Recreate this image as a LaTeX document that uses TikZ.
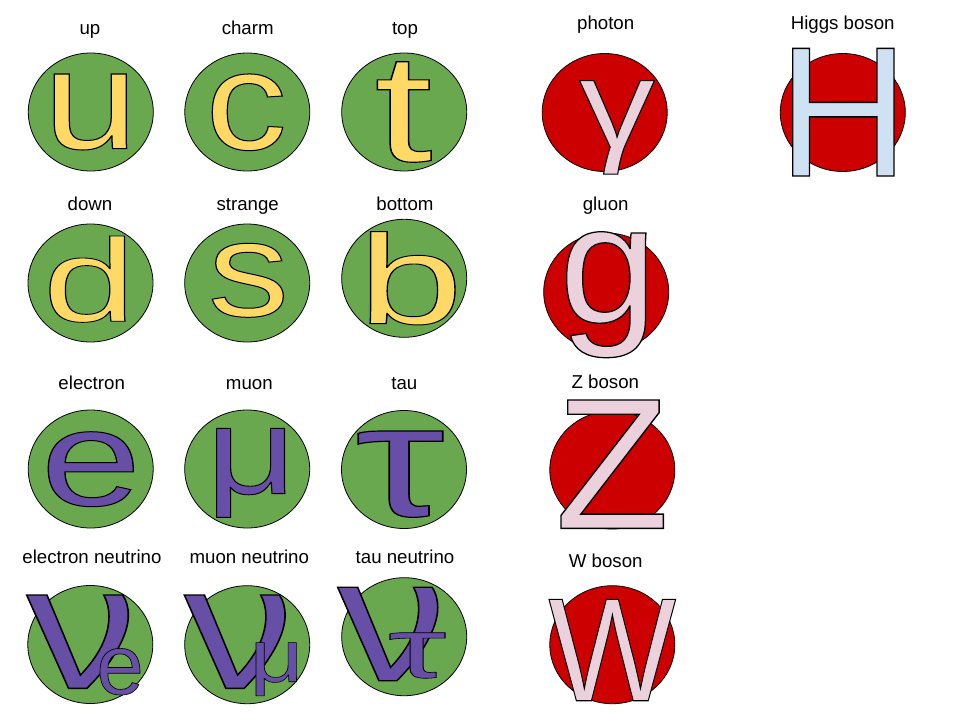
\documentclass[tikz,border=0pt]{standalone}
\usepackage{fontspec}
\usepackage{graphicx}
\setmainfont{Liberation Sans}
\usetikzlibrary{shapes.geometric}

\definecolor{fermionGreen}{HTML}{6AA84F}
\definecolor{bosonRed}{HTML}{CC0000}
\definecolor{quarkFill}{HTML}{FFD966}
\definecolor{leptonFill}{HTML}{674EA7}
\definecolor{bosonFill}{HTML}{EAD1DC}
\definecolor{higgsFill}{HTML}{CFE2F3}

% one glyph, filled and outlined, stretched so that its ink is #1 x #2
\newlength\inklsb
\newlength\inkrsb
\newsavebox\inkglyph
\newcommand\wordart[4]{%
  \begingroup\fontsize{150}{150}\selectfont
  \inklsb=\XeTeXglyphbounds1 \XeTeXcharglyph`#4\relax
  \inkrsb=\XeTeXglyphbounds3 \XeTeXcharglyph`#4\relax
  \sbox\inkglyph{\kern-\inklsb\color{#3}\special{pdf:literal direct 0 G 2 Tr 1.1 w}#4\special{pdf:literal direct 0 Tr}\kern-\inkrsb}%
  \resizebox*{#1}{#2}{\usebox\inkglyph}%
  \endgroup}

\begin{document}
\begin{tikzpicture}[x=1pt,y=-1pt,
  particle/.style={ellipse,draw=black,line width=0.8pt,minimum width=125pt,minimum height=118pt,inner sep=0pt},
  fermion/.style={particle,fill=fermionGreen},
  boson/.style={particle,fill=bosonRed},
  partname/.style={anchor=base,font=\fontsize{18.67}{22}\selectfont},
  letter/.style={inner sep=0pt}]
\useasboundingbox (0,0) rectangle (960,720);
% quarks
\node[fermion] (up) at (90.8,112) {};
\node[fermion] (charm) at (247.3,112) {};
\node[fermion] (top) at (404.2,112) {};
\node[fermion] (down) at (90.5,283) {};
\node[fermion] (strange) at (247.2,283) {};
\node[fermion] (bottom) at (404.2,278.3) {};
\node[partname] (up-name) at (90,34.5) {up};
\node[partname] (charm-name) at (247.7,34.5) {charm};
\node[partname] (top-name) at (405,34.5) {top};
\node[partname] (down-name) at (90,210) {down};
\node[partname] (strange-name) at (247.7,210) {strange};
\node[partname] (bottom-name) at (405,210) {bottom};
\node[letter] (up-sym) at (90.5,112) {\wordart{72.4pt}{76pt}{quarkFill}{u}};
\node[letter] (charm-sym) at (247.5,112.3) {\wordart{70.4pt}{76.7pt}{quarkFill}{c}};
\node[letter] (top-sym) at (404.2,112) {\wordart{53.7pt}{100.6pt}{quarkFill}{t}};
\node[letter] (down-sym) at (87.5,279.2) {\wordart{75pt}{86.3pt}{quarkFill}{d}};
\node[letter] (strange-sym) at (247.8,280.3) {\wordart{71pt}{74pt}{quarkFill}{s}};
\node[letter] (bottom-sym) at (412.5,278.3) {\wordart{85pt}{93.3pt}{quarkFill}{b}};
% leptons
\node[fermion] (electron) at (90.7,469) {};
\node[fermion] (muon) at (247.2,469) {};
\node[fermion] (tau) at (404,469.5) {};
\node[fermion] (nu-e) at (90.3,644.5) {};
\node[fermion] (nu-mu) at (247.2,644.7) {};
\node[fermion] (nu-tau) at (404.2,636.7) {};
\node[partname] (electron-name) at (91.7,389.5) {electron};
\node[partname] (muon-name) at (249.3,389.5) {muon};
\node[partname] (tau-name) at (404.3,389.5) {tau};
\node[partname] (nu-e-name) at (92,563.4) {electron neutrino};
\node[partname] (nu-mu-name) at (249.3,563.4) {muon neutrino};
\node[partname] (nu-tau-name) at (405,563.4) {tau neutrino};
\node[letter] (electron-sym) at (90.8,469.2) {\wordart{85pt}{75pt}{leptonFill}{e}};
\node[letter] (muon-sym) at (250.8,472.8) {\wordart{68.3pt}{89pt}{leptonFill}{μ}};
\node[letter] (tau-sym) at (400.5,474.2) {\wordart{84.4pt}{86.3pt}{leptonFill}{τ}};
\node[letter] (nu-e-sym) at (77.5,641.7) {\wordart{101.6pt}{93.3pt}{leptonFill}{ν}};
\node[letter] (nu-e-sub) at (120,671.7) {\wordart{40pt}{46.7pt}{leptonFill}{e}};
\node[letter] (nu-mu-sym) at (234.7,641.7) {\wordart{100.7pt}{93.3pt}{leptonFill}{ν}};
\node[letter] (nu-mu-sub) at (276.3,669.3) {\wordart{40.7pt}{53.3pt}{leptonFill}{μ}};
\node[letter] (nu-tau-sym) at (387.7,634) {\wordart{100pt}{93.4pt}{leptonFill}{ν}};
\node[letter] (nu-tau-sub) at (417.5,655.5) {\wordart{55pt}{45.6pt}{leptonFill}{τ}};
% bosons
\node[boson] (photon) at (604.7,112.5) {};
\node[boson] (higgs) at (842.8,112.5) {};
\node[boson] (gluon) at (606.2,292) {};
\node[boson] (z) at (612.3,470) {};
\node[boson] (w) at (612.3,644.7) {};
\node[partname] (photon-name) at (605.7,29.7) {photon};
\node[partname] (higgs-name) at (842.7,29.7) {Higgs boson};
\node[partname] (gluon-name) at (605.7,210) {gluon};
\node[partname] (z-name) at (605.3,388.5) {Z boson};
\node[partname] (w-name) at (605.7,567.7) {W boson};
\node[letter] (photon-sym) at (617,127.3) {\wordart{75pt}{93.5pt}{bosonFill}{γ}};
\node[letter] (higgs-sym) at (843.3,112.2) {\wordart{101.3pt}{127.7pt}{higgsFill}{H}};
\node[letter] (gluon-sym) at (606.3,294.7) {\wordart{79.3pt}{126pt}{bosonFill}{g}};
\node[letter] (z-sym) at (612.2,464.2) {\wordart{102.3pt}{128.3pt}{bosonFill}{Z}};
\node[letter] (w-sym) at (612.3,650) {\wordart{126.7pt}{101.4pt}{bosonFill}{W}};
\end{tikzpicture}
\end{document}
